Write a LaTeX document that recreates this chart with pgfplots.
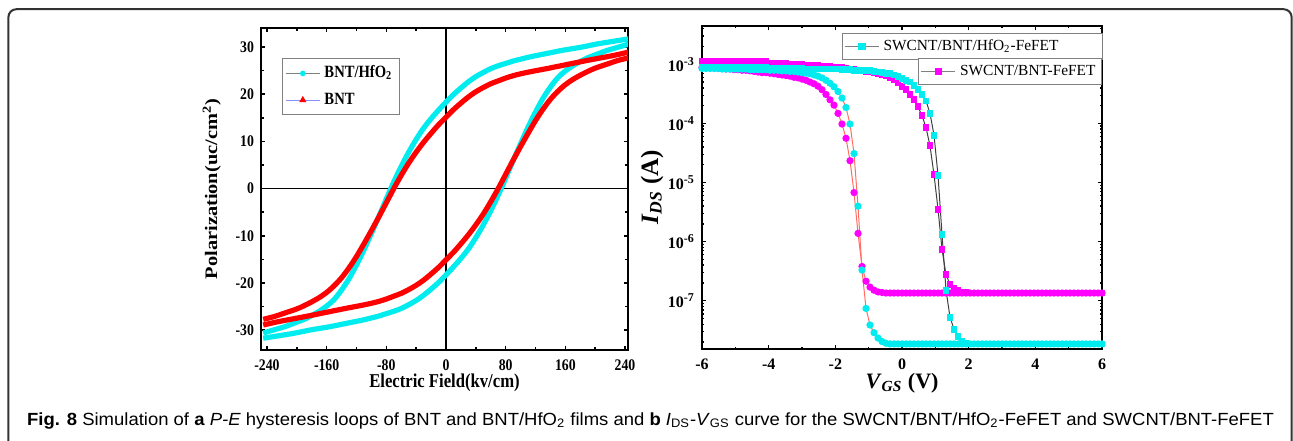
\documentclass[border=0pt]{standalone}
\usepackage{fontspec}
\setmainfont{Liberation Serif}
\newfontfamily\lfont[FakeStretch=0.85]{Liberation Serif}
\newfontfamily\capfont[FakeStretch=1.05]{Liberation Sans}
\usepackage{graphicx}
\usepackage{pgfplots}
\usepackage{pgfplotstable}
\pgfplotsset{compat=1.18}

\definecolor{cy}{RGB}{0,236,238}
\definecolor{mg}{RGB}{255,0,255}
\definecolor{rd}{RGB}{255,0,0}
\definecolor{lnred}{RGB}{255,110,100}
\definecolor{lav}{RGB}{140,140,255}

% I_DS (A) against V_GS (V); A,B = left sweep (circles), C,D = right sweep (squares)
\pgfplotstableread{
V A B C D
-6.00 8.51e-4 8.91e-4 8.91e-4 1.12e-3
-5.88 8.51e-4 8.91e-4 8.91e-4 1.12e-3
-5.76 8.51e-4 8.71e-4 8.91e-4 1.12e-3
-5.64 8.51e-4 8.71e-4 8.91e-4 1.12e-3
-5.52 8.51e-4 8.51e-4 8.91e-4 1.12e-3
-5.40 8.32e-4 8.51e-4 8.91e-4 1.12e-3
-5.28 8.32e-4 8.32e-4 8.91e-4 1.12e-3
-5.16 8.32e-4 8.32e-4 8.91e-4 1.12e-3
-5.04 8.32e-4 8.13e-4 8.91e-4 1.12e-3
-4.92 8.32e-4 8.13e-4 8.71e-4 1.10e-3
-4.80 8.32e-4 7.94e-4 8.71e-4 1.10e-3
-4.68 8.32e-4 7.94e-4 8.71e-4 1.10e-3
-4.56 8.13e-4 7.76e-4 8.71e-4 1.10e-3
-4.44 8.13e-4 7.59e-4 8.71e-4 1.10e-3
-4.32 8.13e-4 7.41e-4 8.71e-4 1.10e-3
-4.20 8.13e-4 7.24e-4 8.71e-4 1.10e-3
-4.08 8.13e-4 7.24e-4 8.71e-4 1.10e-3
-3.96 7.94e-4 7.08e-4 8.51e-4 1.05e-3
-3.84 7.94e-4 6.92e-4 8.51e-4 1.05e-3
-3.72 7.94e-4 6.76e-4 8.51e-4 1.05e-3
-3.60 7.76e-4 6.61e-4 8.51e-4 1.05e-3
-3.48 7.76e-4 6.46e-4 8.51e-4 1.05e-3
-3.36 7.59e-4 6.31e-4 8.51e-4 1.00e-3
-3.24 7.59e-4 6.03e-4 8.51e-4 1.00e-3
-3.12 7.41e-4 5.89e-4 8.51e-4 1.00e-3
-3.00 7.24e-4 5.62e-4 8.51e-4 1.00e-3
-2.88 7.08e-4 5.37e-4 8.32e-4 9.77e-4
-2.76 6.92e-4 5.01e-4 8.32e-4 9.77e-4
-2.64 6.61e-4 4.68e-4 8.32e-4 9.55e-4
-2.52 6.31e-4 4.27e-4 8.32e-4 9.55e-4
-2.40 5.89e-4 3.72e-4 8.32e-4 9.33e-4
-2.28 5.37e-4 3.09e-4 8.32e-4 9.33e-4
-2.16 4.79e-4 2.51e-4 8.32e-4 9.12e-4
-2.04 4.17e-4 2.04e-4 8.32e-4 8.91e-4
-1.92 3.47e-4 1.48e-4 8.32e-4 8.91e-4
-1.80 2.69e-4 9.77e-5 8.13e-4 8.71e-4
-1.68 1.86e-4 5.62e-5 8.13e-4 8.51e-4
-1.56 9.77e-5 2.34e-5 8.13e-4 8.32e-4
-1.44 3.09e-5 6.76e-6 7.94e-4 8.13e-4
-1.32 3.98e-6 1.38e-6 7.94e-4 7.94e-4
-1.20 3.31e-7 3.80e-7 7.94e-4 7.76e-4
-1.08 7.41e-8 2.14e-7 7.76e-4 7.59e-4
-0.96 3.89e-8 1.70e-7 7.76e-4 7.41e-4
-0.84 2.88e-8 1.51e-7 7.59e-4 7.24e-4
-0.72 2.34e-8 1.41e-7 7.41e-4 7.08e-4
-0.60 2.04e-8 1.38e-7 7.24e-4 6.76e-4
-0.48 1.91e-8 1.35e-7 7.08e-4 6.46e-4
-0.36 1.86e-8 1.35e-7 6.92e-4 6.03e-4
-0.24 1.86e-8 1.35e-7 6.61e-4 5.50e-4
-0.12 1.86e-8 1.35e-7 6.17e-4 4.90e-4
0.00 1.86e-8 1.35e-7 5.75e-4 4.27e-4
0.12 1.86e-8 1.35e-7 5.37e-4 3.72e-4
0.24 1.86e-8 1.35e-7 5.01e-4 3.09e-4
0.36 1.86e-8 1.35e-7 4.37e-4 2.57e-4
0.48 1.86e-8 1.35e-7 3.72e-4 1.91e-4
0.60 1.86e-8 1.35e-7 3.09e-4 1.35e-4
0.72 1.86e-8 1.35e-7 2.40e-4 8.51e-5
0.84 1.86e-8 1.35e-7 1.48e-4 4.17e-5
0.96 1.86e-8 1.35e-7 6.31e-5 1.35e-5
1.08 1.86e-8 1.35e-7 1.32e-5 3.55e-6
1.20 1.86e-8 1.35e-7 1.32e-6 7.41e-7
1.32 1.86e-8 1.35e-7 1.51e-7 2.75e-7
1.44 1.86e-8 1.35e-7 5.25e-8 1.91e-7
1.56 1.86e-8 1.35e-7 3.31e-8 1.62e-7
1.68 1.86e-8 1.35e-7 2.45e-8 1.48e-7
1.80 1.86e-8 1.35e-7 2.09e-8 1.41e-7
1.92 1.86e-8 1.35e-7 1.91e-8 1.38e-7
2.04 1.86e-8 1.35e-7 1.86e-8 1.35e-7
2.16 1.86e-8 1.35e-7 1.86e-8 1.35e-7
2.28 1.86e-8 1.35e-7 1.86e-8 1.35e-7
2.40 1.86e-8 1.35e-7 1.86e-8 1.35e-7
2.52 1.86e-8 1.35e-7 1.86e-8 1.35e-7
2.64 1.86e-8 1.35e-7 1.86e-8 1.35e-7
2.76 1.86e-8 1.35e-7 1.86e-8 1.35e-7
2.88 1.86e-8 1.35e-7 1.86e-8 1.35e-7
3.00 1.86e-8 1.35e-7 1.86e-8 1.35e-7
3.12 1.86e-8 1.35e-7 1.86e-8 1.35e-7
3.24 1.86e-8 1.35e-7 1.86e-8 1.35e-7
3.36 1.86e-8 1.35e-7 1.86e-8 1.35e-7
3.48 1.86e-8 1.35e-7 1.86e-8 1.35e-7
3.60 1.86e-8 1.35e-7 1.86e-8 1.35e-7
3.72 1.86e-8 1.35e-7 1.86e-8 1.35e-7
3.84 1.86e-8 1.35e-7 1.86e-8 1.35e-7
3.96 1.86e-8 1.35e-7 1.86e-8 1.35e-7
4.08 1.86e-8 1.35e-7 1.86e-8 1.35e-7
4.20 1.86e-8 1.35e-7 1.86e-8 1.35e-7
4.32 1.86e-8 1.35e-7 1.86e-8 1.35e-7
4.44 1.86e-8 1.35e-7 1.86e-8 1.35e-7
4.56 1.86e-8 1.35e-7 1.86e-8 1.35e-7
4.68 1.86e-8 1.35e-7 1.86e-8 1.35e-7
4.80 1.86e-8 1.35e-7 1.86e-8 1.35e-7
4.92 1.86e-8 1.35e-7 1.86e-8 1.35e-7
5.04 1.86e-8 1.35e-7 1.86e-8 1.35e-7
5.16 1.86e-8 1.35e-7 1.86e-8 1.35e-7
5.28 1.86e-8 1.35e-7 1.86e-8 1.35e-7
5.40 1.86e-8 1.35e-7 1.86e-8 1.35e-7
5.52 1.86e-8 1.35e-7 1.86e-8 1.35e-7
5.64 1.86e-8 1.35e-7 1.86e-8 1.35e-7
5.76 1.86e-8 1.35e-7 1.86e-8 1.35e-7
5.88 1.86e-8 1.35e-7 1.86e-8 1.35e-7
6.00 1.86e-8 1.35e-7 1.86e-8 1.35e-7
}\ids

\begin{document}
\begin{tikzpicture}
\useasboundingbox (0,0) rectangle (646.5pt,-220pt);
\draw[line width=1pt, black!80, rounded corners=4pt] (4.2pt,-4.6pt) rectangle (645.8pt,-240pt);

% ---------- (a) P-E loops ----------
\begin{axis}[
  at={(130.5pt,-175pt)}, anchor=south west, scale only axis,
  width=183.5pt, height=161pt,
  xmin=-248, xmax=244, ymin=-34.2, ymax=34,
  xtick={-240,-160,-80,0,80,160,240},
  xticklabels={-240,-160,-80,0,80,160,240},
  minor xtick={-200,-120,-40,40,120,200},
  ytick={-30,-20,-10,0,10,20,30},
  yticklabels={-30,-20,-10,0,10,20,30},
  minor ytick={-25,-15,-5,5,15,25},
  tick align=inside, major tick length=2.2pt, minor tick length=1.4pt,
  every tick/.style={black, line width=0.8pt},
  axis line style={line width=1pt},
  ticklabel style={font=\lfont\bfseries\fontsize{8.1}{9}\selectfont},
  xticklabel style={yshift=-1.5pt},
  xlabel={\lfont\bfseries\fontsize{9.8}{11}\selectfont Electric Field(kv/cm)},
  ylabel={\bfseries\fontsize{10.2}{11}\selectfont\scalebox{1}[0.86]{Polarization(uc/cm\textsuperscript{2})}},
  x label style={at={(axis description cs:0.5,0)}, yshift=-16.5pt, anchor=center},
  y label style={at={(axis description cs:-0.1343,0.5)}, anchor=center},
  legend style={at={(0.056,0.906)}, anchor=north west, draw=gray, line width=0.6pt,
    font=\lfont\bfseries\fontsize{8.6}{10}\selectfont, row sep=2pt, inner sep=1.5pt},
  legend cell align=left,
]
\addlegendimage{gray, line width=0.6pt, mark=*, mark size=1.1pt, mark options={draw=cy, fill=cy}}
\addlegendentry{BNT/HfO\textsubscript{2}}
\addlegendimage{lav, line width=0.6pt, mark=triangle*, mark size=1.5pt, mark options={draw=rd, fill=rd}}
\addlegendentry{BNT}

\draw[black, line width=0.6pt] (axis cs:0,-34.2) -- (axis cs:0,34);
\draw[black, line width=0.6pt] (axis cs:-248,0) -- (axis cs:244,0);

% BNT/HfO2
\addplot[cy, line width=2.6pt, smooth, forget plot] coordinates {
(245,31.7)(225,31.2)(202,30.6)(180,29.9)(157,29.3)(135,28.6)(113,27.9)(100,27.4)(90,27.0)
(80,26.5)(70,26.0)(60,25.4)(50,24.6)(40,23.7)(30,22.6)(20,21.3)(10,19.9)(0,18.3)
(-10,16.6)(-20,14.8)(-30,12.8)(-40,10.4)(-50,7.7)(-60,4.7)(-70,1.4)(-80,-2.2)(-90,-5.9)
(-100,-9.5)(-110,-13.0)(-120,-16.2)(-130,-19.1)(-140,-21.5)(-150,-23.5)(-160,-24.9)
(-170,-26.0)(-180,-26.9)(-190,-27.7)(-200,-28.3)(-215,-29.2)(-230,-29.9)(-245,-30.6)};
\addplot[cy, line width=2.6pt, smooth, forget plot] coordinates {
(-245,-31.7)(-225,-31.2)(-202,-30.6)(-180,-29.9)(-157,-29.3)(-135,-28.6)(-113,-27.9)
(-100,-27.4)(-90,-27.0)(-80,-26.5)(-70,-26.0)(-60,-25.4)(-50,-24.6)(-40,-23.7)(-30,-22.6)
(-20,-21.3)(-10,-19.9)(0,-18.3)(10,-16.6)(20,-14.8)(30,-12.8)(40,-10.4)(50,-7.7)(60,-4.7)
(70,-1.4)(80,2.2)(90,5.9)(100,9.5)(110,13.0)(120,16.2)(130,19.1)(140,21.5)(150,23.5)
(160,24.9)(170,26.0)(180,26.9)(190,27.7)(200,28.3)(215,29.2)(230,29.9)(245,30.6)};
% BNT
\addplot[rd, line width=2.6pt, smooth, forget plot] coordinates {
(245,28.9)(225,28.2)(205,27.6)(185,27.0)(160,26.2)(135,25.4)(115,24.8)(100,24.3)(90,23.9)
(80,23.4)(70,22.8)(60,22.2)(50,21.4)(40,20.5)(30,19.4)(20,18.1)(10,16.7)(0,15.1)
(-10,13.5)(-20,11.7)(-30,9.8)(-40,7.7)(-50,5.4)(-60,2.8)(-70,0)(-80,-3.0)(-90,-6.0)
(-100,-8.9)(-110,-11.7)(-120,-14.4)(-130,-16.8)(-140,-18.9)(-150,-20.6)(-160,-22.0)
(-170,-23.1)(-180,-24.0)(-190,-24.8)(-200,-25.5)(-215,-26.3)(-230,-27.1)(-245,-27.7)};
\addplot[rd, line width=2.6pt, smooth, forget plot] coordinates {
(-245,-28.9)(-225,-28.2)(-205,-27.6)(-185,-27.0)(-160,-26.2)(-135,-25.4)(-115,-24.8)
(-100,-24.3)(-90,-23.9)(-80,-23.4)(-70,-22.8)(-60,-22.2)(-50,-21.4)(-40,-20.5)(-30,-19.4)
(-20,-18.1)(-10,-16.7)(0,-15.1)(10,-13.5)(20,-11.7)(30,-9.8)(40,-7.7)(50,-5.4)(60,-2.8)
(70,0)(80,3.0)(90,6.0)(100,8.9)(110,11.7)(120,14.4)(130,16.8)(140,18.9)(150,20.6)
(160,22.0)(170,23.1)(180,24.0)(190,24.8)(200,25.5)(215,26.3)(230,27.1)(245,27.7)};
\end{axis}

% ---------- (b) I_DS - V_GS ----------
\begin{axis}[
  at={(351pt,-174.5pt)}, anchor=south west, scale only axis,
  width=200pt, height=161.5pt,
  xmin=-6, xmax=6, ymode=log, ymin=1.525e-8, ymax=4.45e-3,
  xtick={-6,-4,-2,0,2,4,6}, xticklabels={-6,-4,-2,0,2,4,6},
  minor xtick={-5,-3,-1,1,3,5},
  ytick={1e-7,1e-6,1e-5,1e-4,1e-3},
  yticklabels={10\textsuperscript{-7},10\textsuperscript{-6},10\textsuperscript{-5},10\textsuperscript{-4},10\textsuperscript{-3}},
  minor ytick={2e-8,3e-8,4e-8,5e-8,6e-8,7e-8,8e-8,9e-8,
               2e-7,3e-7,4e-7,5e-7,6e-7,7e-7,8e-7,9e-7,
               2e-6,3e-6,4e-6,5e-6,6e-6,7e-6,8e-6,9e-6,
               2e-5,3e-5,4e-5,5e-5,6e-5,7e-5,8e-5,9e-5,
               2e-4,3e-4,4e-4,5e-4,6e-4,7e-4,8e-4,9e-4,2e-3,3e-3,4e-3},
  tick align=inside, major tick length=2pt, minor tick length=1.2pt,
  every tick/.style={black, line width=0.7pt},
  axis line style={line width=1pt},
  ticklabel style={font=\bfseries\fontsize{8}{9}\selectfont},
  xticklabel style={yshift=-1.5pt},
  xlabel={\bfseries\fontsize{11}{12}\selectfont\textit{V}\textsubscript{\textit{GS}} (V)},
  ylabel={\bfseries\fontsize{12.5}{13}\selectfont\textit{I}\textsubscript{\textit{DS}} (A)},
  x label style={at={(axis description cs:0.5,0)}, yshift=-17pt, anchor=center},
  y label style={at={(axis description cs:-0.125,0.5)}, anchor=center},
  legend style={at={(1.0025,0.979)}, anchor=north east, draw=gray, line width=0.5pt,
    font=\fontsize{7.7}{9}\selectfont, inner sep=1pt},
  legend cell align=left,
]
\addlegendimage{gray, line width=0.6pt, mark=square*, mark size=1.5pt, mark options={draw=cy, fill=cy}}
\addlegendentry{SWCNT/BNT/HfO\textsubscript{2}-FeFET\hspace*{19pt}}

\addplot[lnred, line width=0.5pt, mark=*, mark size=1.55pt, mark options={draw=mg, fill=mg}, forget plot]
  table[x=V, y=B] {\ids};
\addplot[black!75, line width=0.5pt, mark=square*, mark size=1.45pt, mark options={draw=mg, fill=mg}, forget plot]
  table[x=V, y=D] {\ids};
\addplot[lnred, line width=0.5pt, mark=*, mark size=1.55pt, mark options={draw=cy, fill=cy}, forget plot]
  table[x=V, y=A] {\ids};
\addplot[black!75, line width=0.5pt, mark=square*, mark size=1.45pt, mark options={draw=cy, fill=cy}, forget plot]
  table[x=V, y=C] {\ids};
\end{axis}

% second legend box of panel (b)
\begin{axis}[
  at={(351pt,-174.5pt)}, anchor=south west, scale only axis,
  width=200pt, height=161.5pt, hide axis,
  xmin=0, xmax=1, ymin=0, ymax=1,
  legend style={at={(1.0,0.90)}, anchor=north east, draw=gray, line width=0.5pt,
    font=\fontsize{7.7}{9}\selectfont, inner sep=1pt},
  legend cell align=left,
]
\addlegendimage{gray, line width=0.6pt, mark=square*, mark size=1.5pt, mark options={draw=mg, fill=mg}}
\addlegendentry{SWCNT/BNT-FeFET}
\end{axis}

% caption
\node[anchor=base west, inner sep=0pt] at (13.4pt,-212.5pt)
  {\capfont\fontsize{8.8}{10}\selectfont\textbf{Fig. 8} Simulation of \textbf{a} \textit{P-E} hysteresis loops of BNT and BNT/HfO\textsubscript{2} films and \textbf{b} \textit{I}\textsubscript{DS}-\textit{V}\textsubscript{GS} curve for the SWCNT/BNT/HfO\textsubscript{2}-FeFET and SWCNT/BNT-FeFET};
\end{tikzpicture}
\end{document}
